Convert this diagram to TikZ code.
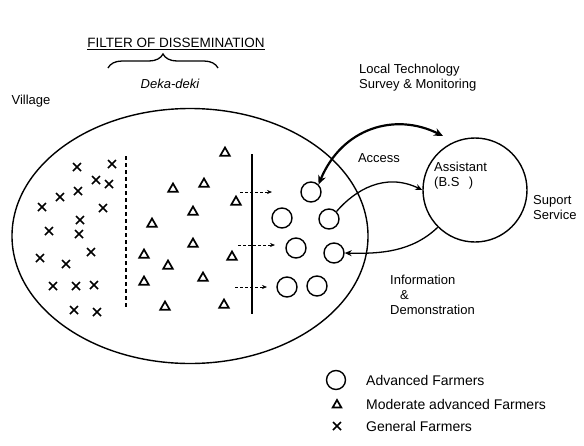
\documentclass[tikz,border=0pt]{standalone}
\usepackage{fontspec}
\setmainfont{Liberation Sans}
\usetikzlibrary{shapes.geometric,shapes.misc,decorations.pathreplacing,arrows.meta}

\tikzset{
	advfarmer/.style={draw, circle, line width=1.4pt, minimum size=20pt, inner sep=0pt},
	modfarmer/.style={draw, regular polygon, regular polygon sides=3, line width=1.7pt, minimum size=11pt, inner sep=0pt},
	genfarmer/.style={draw, cross out, line width=1.5pt, minimum size=6.5pt, inner sep=0pt},
	flow/.style={-{Stealth[length=7pt,width=6pt]}, line width=1.3pt},
	seep/.style={-{Stealth[length=5pt,width=4pt]}, densely dashed, semithick},
	lbl/.style={inner sep=1pt}
}

\begin{document}
\begin{tikzpicture}[x=1pt, y=-1pt, font=\fontsize{13}{15}\selectfont]
		\useasboundingbox (0,0) rectangle (584,445);

		% Titel
		\node[lbl] (title) at (176,44) {\fontsize{13.5}{15}\selectfont\underline{FILTER OF DISSEMINATION}};
		\draw[decorate, decoration={brace, amplitude=14pt}, line width=1.3pt] (108,68) -- (218,68);
		\node[lbl] (deka) at (170,84) {\itshape Deka-deki};
		\node[lbl] (vill) at (31,101) {Village};
		\node[lbl, anchor=west, align=left] (survey) at (358,78) {Local Technology\\Survey \& Monitoring};

		% Dorf
		\node[draw, ellipse, line width=1.4pt, minimum width=356pt, minimum height=255pt] (village) at (190,236) {};

		% General farmers
		\foreach \xx/\yy [count=\i] in {77/167, 112/164, 96/180, 109/184, 78/191, 60/197, 42/207,
			103/208, 80/220, 49/231, 79/234, 91/252, 40/258, 66/264, 53/286, 76/286, 94/285, 74/310, 97/312}
			\node[genfarmer] (g\i) at (\xx,\yy) {};

		% Moderate farmers
		\foreach \xx/\yy [count=\i] in {225/153, 173/189, 204/184, 236/202, 193/212, 152/224, 193/244,
			144/255, 168/266, 232/257, 203/278, 144/282, 165/307, 224/305}
			\node[modfarmer] (m\i) at (\xx,\yy) {};

		% Advanced farmers
		\foreach \xx/\yy [count=\i] in {311/192, 282/218, 329/219, 296/248, 334/253, 287/287, 317/286}
			\node[advfarmer] (a\i) at (\xx,\yy) {};

		% Filter
		\draw[line width=2.4pt, dash pattern=on 4pt off 3pt] (126,156) -- (126,307);
		\draw[line width=2.2pt] (252,154) -- (252,314);

		\coordinate (s1) at (240,192); \coordinate (e1) at (272,192);
		\coordinate (s2) at (238,245); \coordinate (e2) at (275,245);
		\coordinate (s3) at (235,287); \coordinate (e3) at (267,287);
		\draw[seep] (s1) -- (e1);
		\draw[seep] (s2) -- (e2);
		\draw[seep] (s3) -- (e3);

		% Assistant
		\node[draw, circle, line width=1.4pt, minimum size=104pt] (asst) at (475,190) {};
		\node[lbl, anchor=west, align=left] (asstlbl) at (433,176) {Assistant\\(B.S\,\ \ )};
		\node[lbl, anchor=west, align=left] (support) at (532,208) {\fontsize{13}{12}\selectfont Suport\\Service};

		\coordinate (accend) at (443,136);
		\draw[{Stealth[length=9pt,width=8pt]}-{Stealth[length=9pt,width=8pt]}, line width=2.2pt]
			(a1.north east) .. controls (342,128) and (395,112) .. (accend);
		\node[lbl] (access) at (379,158) {Access};

		\draw[flow] (a3.north east) .. controls (355,190) and (385,172) .. (asst.west);
		\draw[flow] (asst.225) .. controls (412,252) and (380,254) .. (a5.east);

		\node[lbl, anchor=west, align=left] (info) at (389,295) {\fontsize{13}{16.5}\selectfont Information\\\hspace{10pt}\&\\Demonstration};

		% Legende
		\node[advfarmer, minimum size=19pt] (leg1) at (336,380) {};
		\node[modfarmer, minimum size=10pt] (leg2) at (337,405) {};
		\node[genfarmer] (leg3) at (337,426) {};
		\node[lbl, anchor=west] (legt1) at (365,380) {\fontsize{14}{16}\selectfont Advanced Farmers};
		\node[lbl, anchor=west] (legt2) at (365,404) {\fontsize{14}{16}\selectfont Moderate advanced Farmers};
		\node[lbl, anchor=west] (legt3) at (365,426) {\fontsize{14}{16}\selectfont General Farmers};
	\end{tikzpicture}
\end{document}
